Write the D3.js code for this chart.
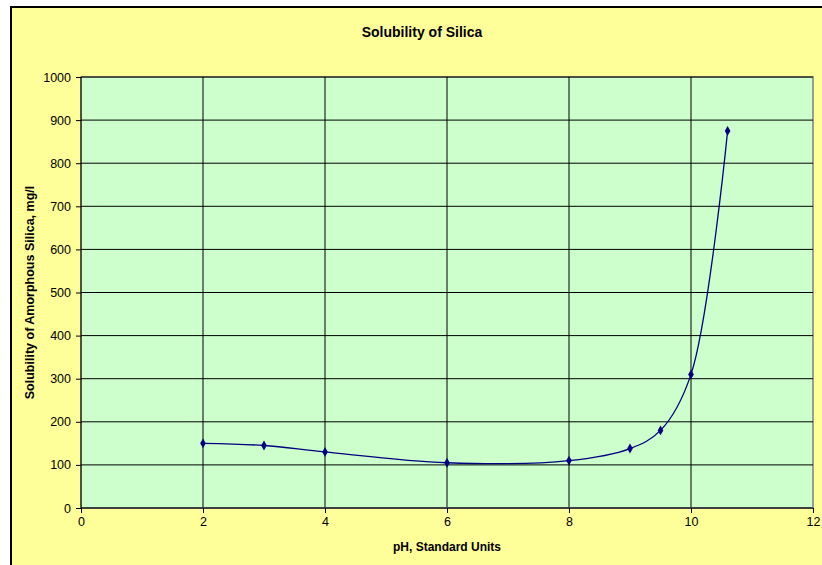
<html>
<head>
<meta charset="utf-8">
<title>Solubility of Silica</title>
<script src="https://cdn.jsdelivr.net/npm/d3@7"></script>
<style>
    body { margin: 0; background: #fff; }
    text { font-family: "Liberation Sans", Arial, sans-serif; fill: #000; }
</style>
</head>
<body>
<svg id="chart" width="822" height="565"></svg>
<script>
    // values
    var phValues = [2, 3, 4, 6, 8, 9, 9.5, 10, 10.6];
    var solubility = [150, 145, 130, 105, 110, 138, 180, 310, 875];
    var xTicks = [0, 2, 4, 6, 8, 10, 12];
    var yTicks = [0, 100, 200, 300, 400, 500, 600, 700, 800, 900, 1000];

    var svg = d3.select("#chart");

    // chart area (yellow) with black frame on left/top
    svg.append("rect")
        .attr("x", 11).attr("y", 7)
        .attr("width", 830).attr("height", 580)
        .style("fill", "#ffff99")
        .style("stroke", "#000")
        .style("stroke-width", 2);

    var plotL = 81, plotT = 77, plotR = 813, plotB = 508;

    var x = d3.scaleLinear().domain([0, 12]).range([plotL, plotR]);
    var y = d3.scaleLinear().domain([0, 1000]).range([plotB, plotT]);

    // plot area
    svg.append("rect")
        .attr("x", plotL).attr("y", plotT)
        .attr("width", plotR - plotL).attr("height", plotB - plotT)
        .style("fill", "#ccffcc")
        .style("stroke", "#808080")
        .style("stroke-width", 1.5);

    // grid lines
    svg.append("g").selectAll("line")
        .data(yTicks.slice(1))
        .enter().append("line")
        .attr("x1", plotL).attr("x2", plotR)
        .attr("y1", function(d) { return y(d); })
        .attr("y2", function(d) { return y(d); })
        .style("stroke", "#000")
        .style("stroke-width", 1);

    svg.append("g").selectAll("line")
        .data(xTicks.slice(1, -1))
        .enter().append("line")
        .attr("y1", plotT).attr("y2", plotB)
        .attr("x1", function(d) { return x(d); })
        .attr("x2", function(d) { return x(d); })
        .style("stroke", "#000")
        .style("stroke-width", 1);

    // axes
    var xAxis = svg.append("g")
        .attr("transform", "translate(0," + plotB + ")")
        .call(d3.axisBottom(x).tickValues(xTicks).tickFormat(d3.format("d")).tickSize(5).tickPadding(4));
    var yAxis = svg.append("g")
        .attr("transform", "translate(" + plotL + ",0)")
        .call(d3.axisLeft(y).tickValues(yTicks).tickFormat(d3.format("d")).tickSize(5).tickPadding(5));

    xAxis.select(".domain").attr("d", "M" + plotL + ",0H" + plotR)
        .style("stroke", "#404040").style("stroke-width", 2);
    yAxis.select(".domain").attr("d", "M0," + plotT + "V" + plotB)
        .style("stroke", "#000").style("stroke-width", 1);
    svg.selectAll(".tick line").style("stroke", "#000");
    svg.selectAll(".tick text")
        .style("font-family", "Liberation Sans, Arial, sans-serif")
        .style("font-size", "12.5px")
        .style("fill", "#000");

    // smoothed series line
    var pts = phValues.map(function(d, i) { return [d, solubility[i]]; });
    var line = d3.line()
        .x(function(d) { return x(d[0]); })
        .y(function(d) { return y(d[1]); })
        .curve(d3.curveCatmullRom.alpha(0.5));

    svg.append("path")
        .datum(pts)
        .attr("d", line)
        .style("fill", "none")
        .style("stroke", "#000080")
        .style("stroke-width", 1.3);

    svg.append("g").selectAll("path")
        .data(pts)
        .enter().append("path")
        .attr("d", d3.symbol().type(d3.symbolDiamond).size(28))
        .attr("transform", function(d) { return "translate(" + x(d[0]) + "," + y(d[1]) + ")"; })
        .style("fill", "#000080");

    // titles
    svg.append("text")
        .attr("x", 422).attr("y", 37)
        .attr("text-anchor", "middle")
        .style("font-size", "14px").style("font-weight", "bold")
        .text("Solubility of Silica");

    svg.append("text")
        .attr("x", (plotL + plotR) / 2).attr("y", 551)
        .attr("text-anchor", "middle")
        .style("font-size", "12px").style("font-weight", "bold")
        .text("pH, Standard Units");

    svg.append("text")
        .attr("transform", "translate(34," + (plotT + plotB) / 2 + ") rotate(-90)")
        .attr("text-anchor", "middle")
        .style("font-size", "12.5px").style("font-weight", "bold")
        .text("Solubility of Amorphous Silica, mg/l");
</script>
</body>
</html>
